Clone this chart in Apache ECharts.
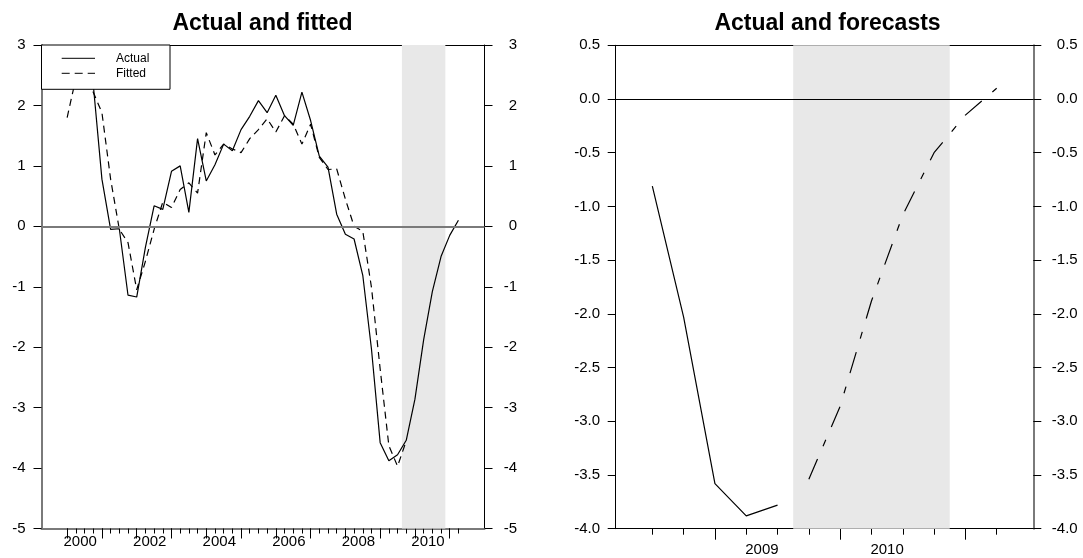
<!DOCTYPE html>
<html><head><meta charset="utf-8">
<script src="https://cdn.jsdelivr.net/npm/echarts@6/dist/echarts.min.js"></script>
<style>html,body{margin:0;padding:0;background:#fff}#c{width:1083px;height:558px}</style>
</head><body><div id="c"></div>
<script>
// ---- data ----
const quarters = ['2000Q1','2000Q2','2000Q3','2000Q4','2001Q1','2001Q2','2001Q3','2001Q4',
  '2002Q1','2002Q2','2002Q3','2002Q4','2003Q1','2003Q2','2003Q3','2003Q4',
  '2004Q1','2004Q2','2004Q3','2004Q4','2005Q1','2005Q2','2005Q3','2005Q4',
  '2006Q1','2006Q2','2006Q3','2006Q4','2007Q1','2007Q2','2007Q3','2007Q4',
  '2008Q1','2008Q2','2008Q3','2008Q4','2009Q1','2009Q2','2009Q3','2009Q4',
  '2010Q1','2010Q2','2010Q3','2010Q4','2011Q1','2011Q2'];
const actual = [2.45,2.6,2.5,2.35,0.78,-0.05,-0.04,-1.14,
  -1.17,-0.35,0.34,0.28,0.91,1.0,0.23,1.45,
  0.75,1.02,1.36,1.25,1.6,1.82,2.08,1.88,
  2.17,1.83,1.67,2.22,1.75,1.16,0.98,0.2,
  -0.13,-0.21,-0.81,-2.03,-3.58,-3.88,-3.78,-3.54,
  -2.86,-1.88,-1.08,-0.50,-0.15,0.10];
const fitted = [1.80,2.45,2.55,2.22,1.88,0.78,-0.05,-0.27,
  -1.05,-0.58,-0.05,0.40,0.31,0.61,0.72,0.55,
  1.55,1.18,1.36,1.28,1.22,1.45,1.60,1.78,
  1.56,1.83,1.69,1.36,1.69,1.14,0.94,0.95,
  0.45,0.0,-0.08,-1.01,-2.36,-3.63,-3.97,-3.55];
const rightActualQuarters = ['2008Q3','2008Q4','2009Q1','2009Q2','2009Q3'];
const forecastQuarters = ['2009Q4','2010Q1','2010Q2','2010Q3','2010Q4','2011Q1','2011Q2'];
const forecast = [-3.54,-2.86,-1.88,-1.08,-0.50,-0.15,0.10];
const shadeStart = '2009Q4', shadeEnd = '2010Q4';
const leftYearLabels = ['2000','2002','2004','2006','2008','2010'];
const rightYearLabels = ['2009','2010'];
const leftYTicks = [-5,-4,-3,-2,-1,0,1,2,3];
const rightYTicks = [-4.0,-3.5,-3.0,-2.5,-2.0,-1.5,-1.0,-0.5,0.0,0.5];

// ---- helpers ----
const qi = q => quarters.indexOf(q);
const FONT = "'Liberation Sans', Arial, sans-serif";
const actualPts = actual.map((v,i)=>[i,v]);
const fittedPts = fitted.map((v,i)=>[i,v]);
const rightActualPts = rightActualQuarters.map(q=>[qi(q), actual[qi(q)]]);
const forecastPts = forecastQuarters.map((q,i)=>[qi(q), forecast[i]]);
const allQ = quarters.map((q,i)=>i);
const yearStarts = quarters.map((q,i)=>q.endsWith('Q1')?i:null).filter(v=>v!==null);
const midYear = y => qi(y+'Q2') + 0.5;
const shadeArea = [[{xAxis: qi(shadeStart)-0.5},{xAxis: qi(shadeEnd)+0.5}]];
const rightTickQ = rightActualQuarters.concat(forecastQuarters).map(qi);
const rightYearStarts = rightTickQ.filter(i=>quarters[i].endsWith('Q1'));

const lblStyle = {color:'#000', fontSize:15, fontFamily:FONT};
const black = {color:'#000', width:1};
const grey2 = {color:'#7a7a7a', width:2};

function xBase(grid,min,max,lineStyle,ticks,len){
  return {type:'value', gridIndex:grid, min:min, max:max, position:'bottom',
    axisLine:{show:true, onZero:false, lineStyle:lineStyle},
    axisTick:{show:true, length:len, customValues:ticks, lineStyle:{color:'#000',width:1}},
    axisLabel:{show:false}, splitLine:{show:false}};
}
function xMajor(grid,min,max,ticks,len,labelVals,labelTexts,margin){
  return {type:'value', gridIndex:grid, min:min, max:max, position:'bottom',
    axisLine:{show:false, onZero:false},
    axisTick:{show:true, length:len, customValues:ticks, lineStyle:{color:'#000',width:1}},
    axisLabel:Object.assign({show:true, margin:margin, customValues:labelVals,
      formatter:v=>{const k=labelVals.findIndex(x=>Math.abs(x-v)<1e-6); return k>=0?labelTexts[k]:'';}}, lblStyle),
    splitLine:{show:false}};
}
function xTop(grid,min,max){
  return {type:'value', gridIndex:grid, min:min, max:max, position:'top',
    axisLine:{show:true, onZero:false, lineStyle:black}, axisTick:{show:false},
    axisLabel:{show:false}, splitLine:{show:false}};
}
function yAx(grid,pos,min,max,interval,lineStyle,margin,align,dec){
  return {type:'value', gridIndex:grid, position:pos, min:min, max:max, interval:interval,
    axisLine:{show:true, onZero:false, lineStyle:lineStyle},
    axisTick:{show:true, length:8, lineStyle:{color:'#000',width:1}},
    axisLabel:Object.assign({margin:margin, align:align,
      formatter:v=>dec?v.toFixed(1):String(v)}, lblStyle),
    splitLine:{show:false}};
}

const L = {min:-2.95, max:48};
const R = {min:32.83, max:46.17};

const option = {
  animation:false,
  backgroundColor:'#fff',
  grid:[
    {left:41.5, right:1083-484.5, top:45, bottom:558-528.5},
    {left:615.7, right:1083-1033.3, top:45.3, bottom:558-528.7}
  ],
  xAxis:[
    xBase(0,L.min,L.max,grey2,allQ,5),
    xMajor(0,L.min,L.max,yearStarts,10,leftYearLabels.map(midYear),leftYearLabels,6),
    xTop(0,L.min,L.max),
    xBase(1,R.min,R.max,black,rightTickQ,6),
    xMajor(1,R.min,R.max,rightYearStarts,11,rightYearLabels.map(midYear),rightYearLabels,13.5),
    xTop(1,R.min,R.max)
  ],
  yAxis:[
    yAx(0,'left',leftYTicks[0],leftYTicks[leftYTicks.length-1],1,grey2,16,'right',false),
    yAx(0,'right',leftYTicks[0],leftYTicks[leftYTicks.length-1],1,black,32.5,'right',false),
    yAx(1,'left',rightYTicks[0],rightYTicks[rightYTicks.length-1],0.5,black,15.7,'right',true),
    yAx(1,'right',rightYTicks[0],rightYTicks[rightYTicks.length-1],0.5,grey2,44.4,'right',true)
  ],
  series:[
    {type:'line', name:'Actual', xAxisIndex:0, yAxisIndex:0, data:actualPts, showSymbol:false,
      lineStyle:{color:'#000', width:1.2}, z:3,
      markArea:{silent:true, itemStyle:{color:'#e8e8e8'}, data:shadeArea},
      markLine:{silent:true, symbol:['none','none'], label:{show:false},
        lineStyle:{color:'#7a7a7a', width:2, type:'solid'}, data:[{yAxis:0}]}},
    {type:'line', name:'Fitted', xAxisIndex:0, yAxisIndex:0, data:fittedPts, showSymbol:false,
      lineStyle:{color:'#000', width:1.2, type:[7,5]}, z:3},
    {type:'line', name:'Actual R', xAxisIndex:3, yAxisIndex:2, data:rightActualPts, showSymbol:false,
      lineStyle:{color:'#000', width:1.2}, z:3,
      markArea:{silent:true, itemStyle:{color:'#e8e8e8'}, data:shadeArea},
      markLine:{silent:true, symbol:['none','none'], label:{show:false},
        lineStyle:{color:'#000', width:1, type:'solid'}, data:[{yAxis:0}]}},
    {type:'line', name:'Forecast', xAxisIndex:3, yAxisIndex:2, data:forecastPts, showSymbol:false,
      lineStyle:{color:'#000', width:1.2, type:[22,14,7,14]}, z:3}
  ],
  graphic:[
    {type:'text', x:262.5, y:24, z:100, style:{text:'Actual and fitted', fontSize:23, fontWeight:'bold', fontFamily:FONT, fill:'#000', align:'center', verticalAlign:'middle'}},
    {type:'text', x:827.5, y:24, z:100, style:{text:'Actual and forecasts', fontSize:23, fontWeight:'bold', fontFamily:FONT, fill:'#000', align:'center', verticalAlign:'middle'}},
    {type:'rect', z:100, shape:{x:41.5, y:45, width:128.5, height:44.3}, style:{fill:'#fff', stroke:'#000', lineWidth:1}},
    {type:'line', z:101, shape:{x1:61.7, y1:58.3, x2:95, y2:58.3}, style:{stroke:'#000', lineWidth:1}},
    {type:'line', z:101, shape:{x1:61.7, y1:73.3, x2:95, y2:73.3}, style:{stroke:'#000', lineWidth:1, lineDash:[8,5]}},
    {type:'text', z:101, x:116, y:58.3, style:{text:'Actual', fontSize:12, fontFamily:FONT, fill:'#000', align:'left', verticalAlign:'middle'}},
    {type:'text', z:101, x:116, y:73.3, style:{text:'Fitted', fontSize:12, fontFamily:FONT, fill:'#000', align:'left', verticalAlign:'middle'}}
  ]
};
const chart = echarts.init(document.getElementById('c'), null, {renderer:'canvas'});
chart.setOption(option);
</script></body></html>
